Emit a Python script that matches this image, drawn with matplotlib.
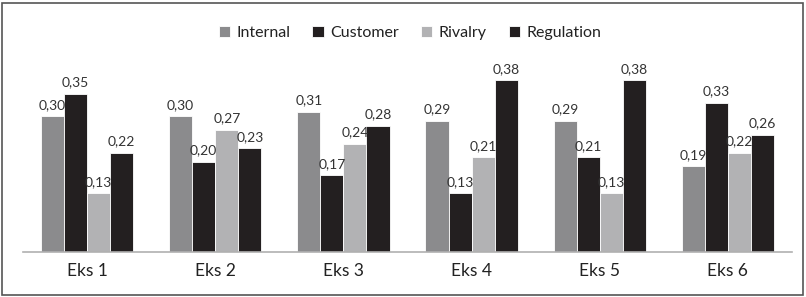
import matplotlib
matplotlib.use("Agg")
import matplotlib.pyplot as plt
import numpy as np
from matplotlib.patches import Rectangle

categories = ["Eks 1", "Eks 2", "Eks 3", "Eks 4", "Eks 5", "Eks 6"]
series_names = ["Internal", "Customer", "Rivalry", "Regulation"]
internal = [0.30, 0.30, 0.31, 0.29, 0.29, 0.19]
customer = [0.35, 0.20, 0.17, 0.13, 0.21, 0.33]
rivalry = [0.13, 0.27, 0.24, 0.21, 0.13, 0.22]
regulation = [0.22, 0.23, 0.28, 0.38, 0.38, 0.26]
colors = ["#8b8b8d", "#231f20", "#b2b2b4", "#231f20"]

plt.rcParams['font.family'] = ['Lato', 'DejaVu Sans']

W, H = 806, 297
fig = plt.figure(figsize=(W/100, H/100), dpi=100)
fig.patches.append(Rectangle((2/W, 2/H), 801/W, 292/H, transform=fig.transFigure,
                             fill=False, edgecolor="#555555", linewidth=1.2))

ax = fig.add_axes([23/W, (H-252)/H, (792-23)/W, (252-46)/H])
x = np.arange(len(categories))
bw = 0.18
data = [internal, customer, rivalry, regulation]
for i, (name, vals, c) in enumerate(zip(series_names, data, colors)):
    pos = x + (i - 1.5) * bw
    ax.bar(pos, vals, width=bw, color=c, edgecolor="white", linewidth=0.6, label=name)
    for p, v in zip(pos, vals):
        ax.text(p, v + 0.012, f"{v:.2f}".replace(".", ","), ha="center", va="bottom",
                fontsize=10, color="#333333")

ax.set_xlim(-0.5, len(categories) - 0.5)
ax.set_ylim(0, 0.456)
ax.set_xticks(x)
ax.set_xticklabels(categories, fontsize=12.5, color="#222222")
ax.tick_params(axis="x", length=0, pad=8)
ax.set_yticks([])
for s in ["top", "right", "left"]:
    ax.spines[s].set_visible(False)
ax.spines["bottom"].set_color("#b0b0b0")
ax.spines["bottom"].set_linewidth(1.2)

leg = fig.legend(loc="center", bbox_to_anchor=(410/W, (H-33)/H), ncol=4, frameon=False,
                 fontsize=11.5, handlelength=0.7, handleheight=0.7, handletextpad=0.4,
                 columnspacing=1.4)
for t in leg.get_texts():
    t.set_color("#222222")

fig.savefig("out.png", dpi=100)
